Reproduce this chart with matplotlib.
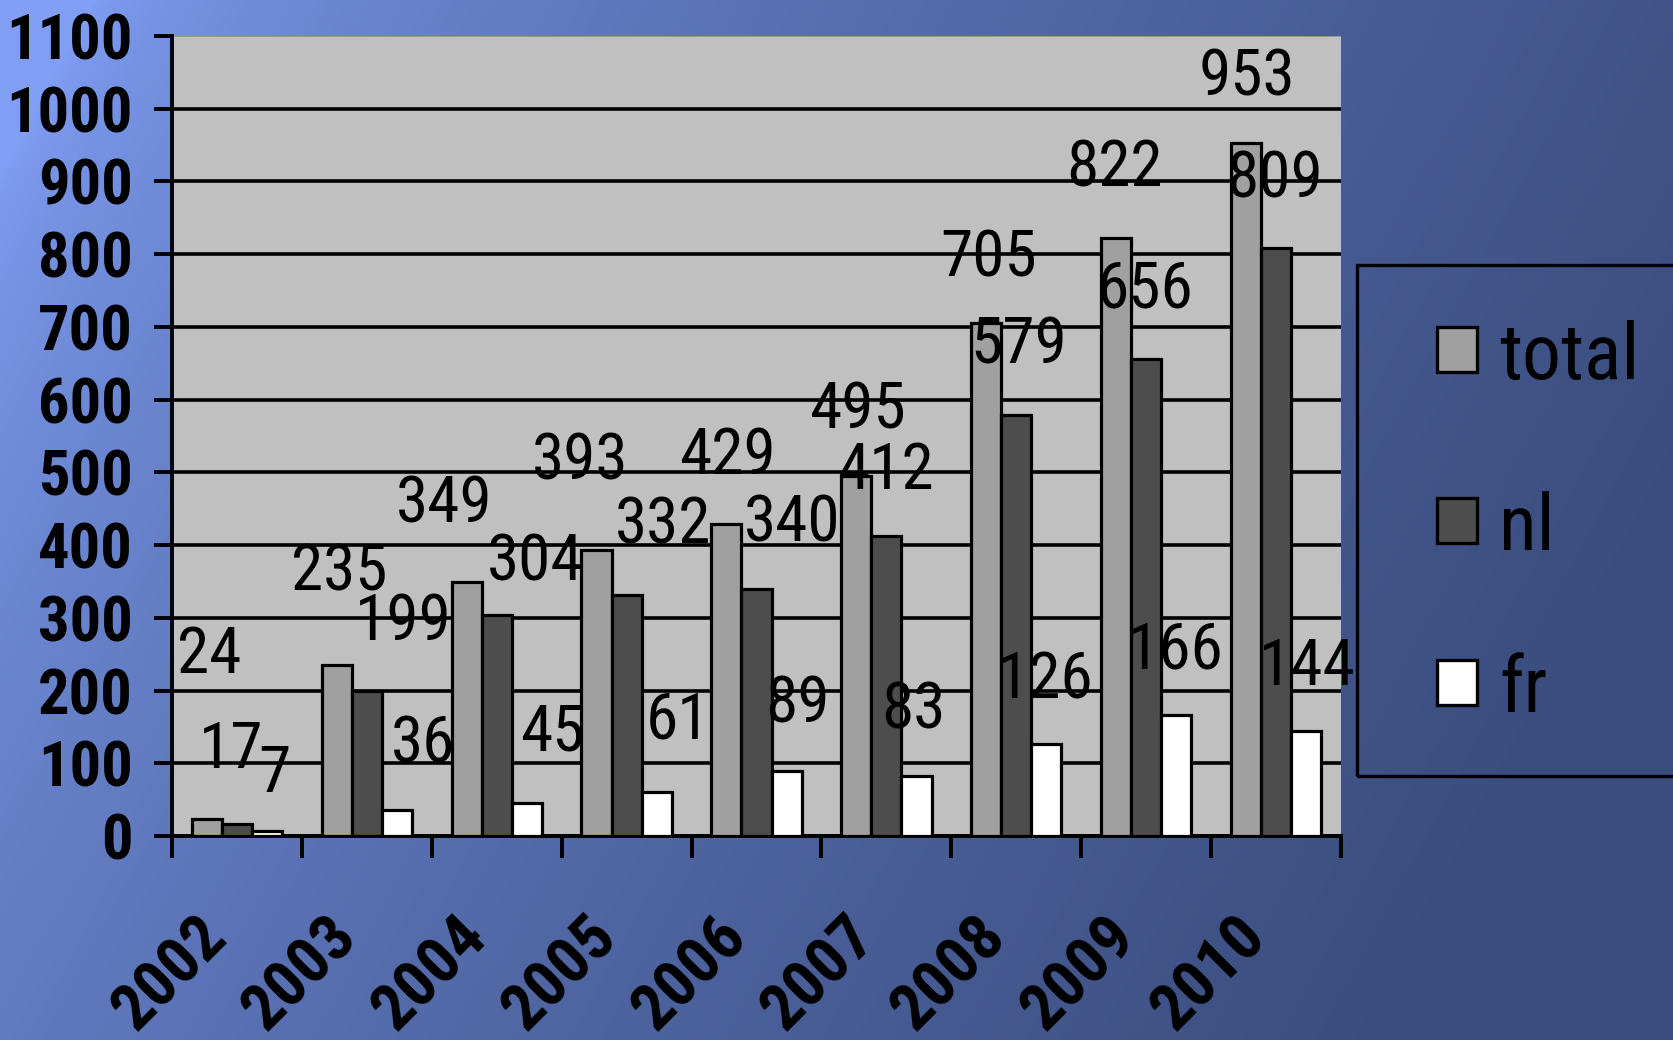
import numpy as np
import matplotlib as mpl
mpl.use("Agg")
import matplotlib.pyplot as plt
from matplotlib.patches import Rectangle
from matplotlib.transforms import ScaledTranslation

plt.rcParams['font.family'] = ['Roboto Condensed', 'IBM Plex Sans Condensed', 'DejaVu Sans']

years = ["2002", "2003", "2004", "2005", "2006", "2007", "2008", "2009", "2010"]
total = [24, 235, 349, 393, 429, 495, 705, 822, 953]
nl = [17, 199, 304, 332, 340, 412, 579, 656, 809]
fr = [7, 36, 45, 61, 89, 83, 126, 166, 144]

series_names = ["total", "nl", "fr"]
series_colors = ["#a0a0a0", "#4d4d4d", "#ffffff"]

# label offsets (points, centre of text relative to bar top) - the original
# slide had the value labels dragged around a bit
total_off = [(2, 122), (2, 71), (-16, 60), (-12, 68), (1, 53), (1, 51), (2, 51), (-1, 54), (1, 51)]
nl_off = [(-4, 57), (26, 54), (28, 42), (26, 54), (26, 51), (-1, 51), (2, 54), (-1, 54), (-1, 53)]
fr_off = [(5, 45), (19, 51), (18, 55), (15, 55), (8, 52), (-2, 51), (-1, 50), (-1, 51), (1, 50)]

W, H = 1673, 1040
fig = plt.figure(figsize=(W / 100, H / 100), dpi=100)

# ====================================================================
# blue gradient background
bg = fig.add_axes([0, 0, 1, 1], zorder=-10)
gx, gy = np.meshgrid(np.linspace(0, 1, 400), np.linspace(0, 1, 260))
t = np.clip(0.9 * gx + 0.3 * gy - 0.05, 0, 1) ** 0.6
light = np.array([128, 158, 244]) / 255.0
dark = np.array([58, 77, 126]) / 255.0
img = light[None, None, :] * (1 - t[..., None]) + dark[None, None, :] * t[..., None]
bg.imshow(img, aspect="auto", extent=[0, 1, 1, 0])
bg.set_axis_off()

# ====================================================================
ax = fig.add_axes([172 / W, 1 - 836 / H, (1341 - 172) / W, (836 - 36) / H])
ax.set_facecolor("#c0c0c0")

x = np.arange(len(years)) + 0.5
w = 0.232
for k, (vals, offs) in enumerate(zip([total, nl, fr], [total_off, nl_off, fr_off])):
    xs = x + (k - 1) * w
    ax.bar(xs, vals, width=w, color=series_colors[k], edgecolor="black",
           linewidth=2.3, zorder=3)
    for xi, v, (dx, dy) in zip(xs, vals, offs):
        ax.annotate(str(v), xy=(xi, v), xytext=(dx, dy - 17), textcoords="offset points",
                    ha="center", va="baseline", fontsize=47, color="black", zorder=5)

ax.set_xlim(0, len(years))
ax.set_ylim(0, 1100)
ax.set_yticks(np.arange(0, 1101, 100))
ax.yaxis.grid(True, color="black", linewidth=2.6)
ax.set_axisbelow(True)
gl = ax.get_ygridlines()
gl[-1].set_color("#909090")
gl[-1].set_linewidth(1.2)

for side in ["top", "right"]:
    ax.spines[side].set_visible(False)
for side in ["left", "bottom"]:
    ax.spines[side].set_linewidth(2.8)
    ax.spines[side].set_color("black")

ax.tick_params(axis="y", length=13, width=2.8, pad=15, labelsize=45)
for lbl in ax.get_yticklabels():
    lbl.set_fontweight("bold")

ax.set_xticks(np.arange(len(years) + 1))
ax.set_xticklabels([])
ax.set_xticks(x, minor=True)
ax.set_xticklabels(years, minor=True, rotation=45, ha="right", va="top",
                   fontsize=47, fontweight="bold")
ax.tick_params(axis="x", which="major", length=16, width=2.8, direction="out")
ax.tick_params(axis="x", which="minor", length=0, pad=50)
shift = ScaledTranslation(2 / 100, 0, fig.dpi_scale_trans)
for lbl in ax.get_xticklabels(minor=True):
    lbl.set_transform(lbl.get_transform() + shift)

# ====================================================================
# legend box, running off the right edge like the slide
fig.patches.append(Rectangle((1357 / W, 1 - 776 / H), 400 / W, (776 - 265) / H,
                             transform=fig.transFigure, facecolor="none",
                             edgecolor="black", linewidth=2.4, clip_on=False))
rows = [350, 521, 683]
for name, col, ry in zip(series_names, series_colors, rows):
    fig.patches.append(Rectangle((1437 / W, 1 - (ry + 22) / H), 40 / W, 45 / H,
                                 transform=fig.transFigure, facecolor=col,
                                 edgecolor="black", linewidth=2.4))
    fig.text(1499 / W, 1 - (ry + 29) / H, name, fontsize=56, ha="left", va="baseline")

fig.savefig("out.png", dpi=100)
